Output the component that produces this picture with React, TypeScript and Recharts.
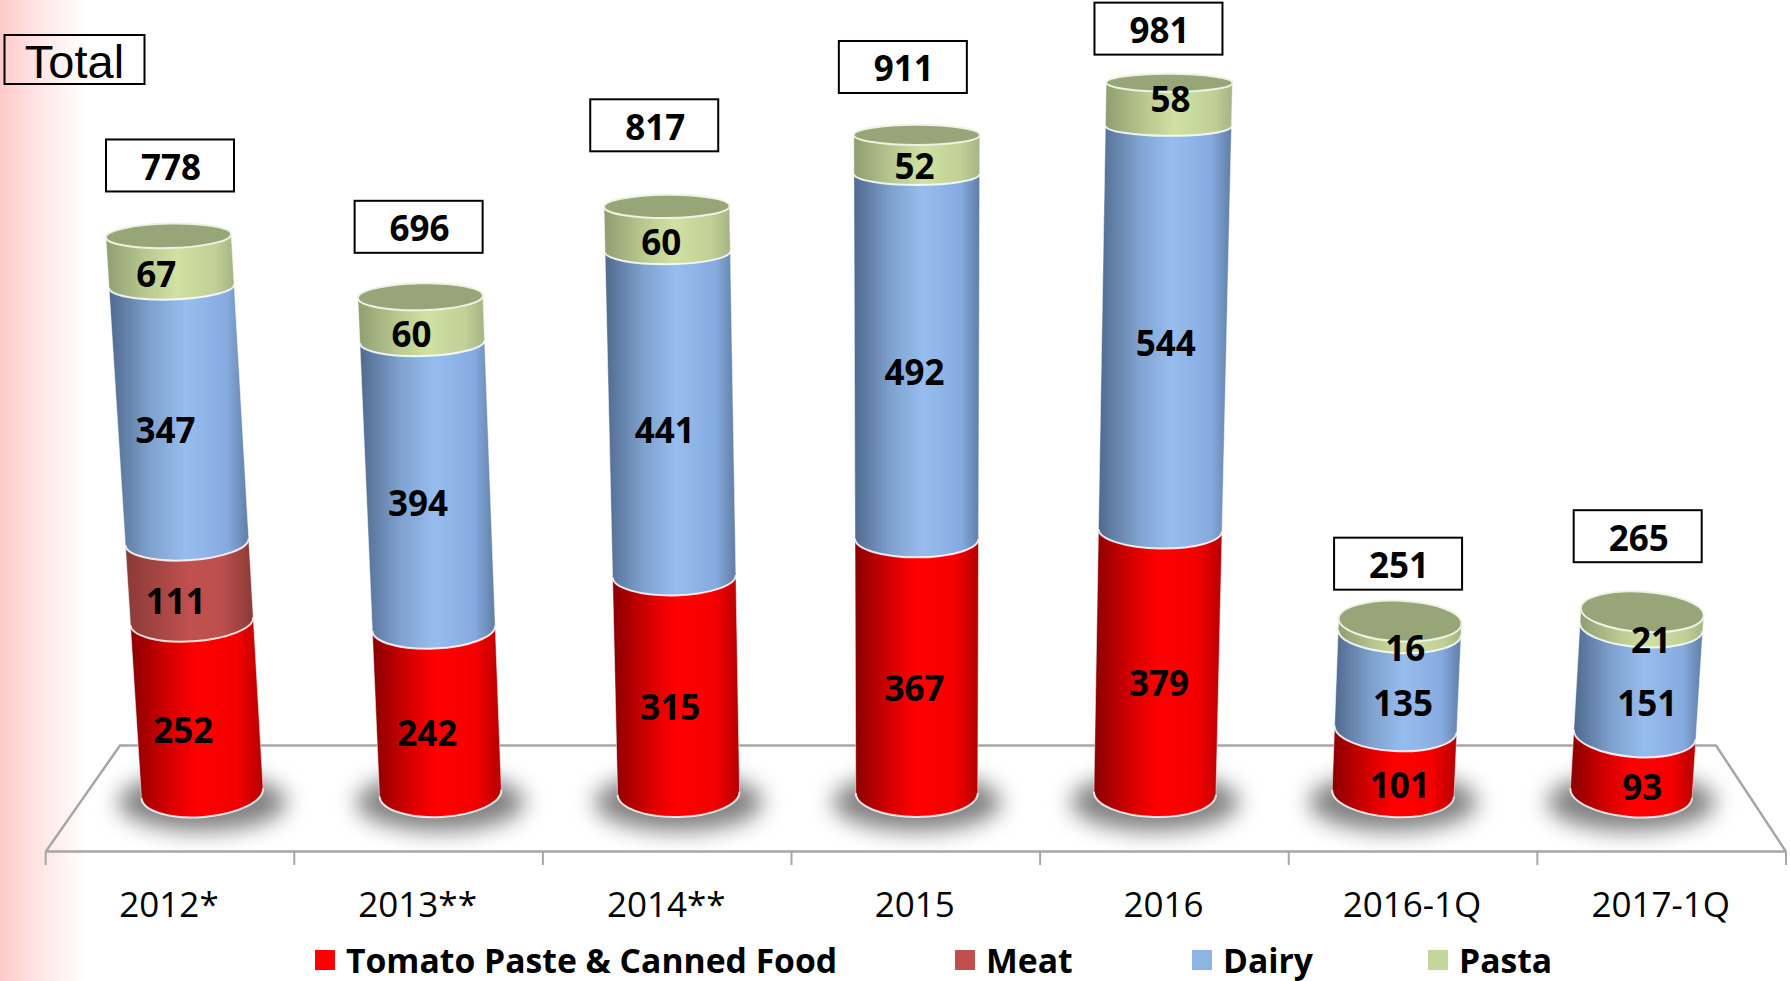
import React from "react"
import { ComposedChart, Bar, Line, XAxis, YAxis, Legend, LabelList } from "recharts"

const categories = ["2012*", "2013**", "2014**", "2015", "2016", "2016-1Q", "2017-1Q"]
const tomato = [252, 242, 315, 367, 379, 101, 93]
const meat = [111, null, null, null, null, null, null]
const dairy = [347, 394, 441, 492, 544, 135, 151]
const pasta = [67, 60, 60, 52, 58, 16, 21]
const totals = [778, 696, 817, 911, 981, 251, 265]
const legendOrder = ["Tomato Paste & Canned Food", "Meat", "Dairy", "Pasta"]

const data = categories.map((name, i) => ({
    name,
    tomato: tomato[i],
    meat: meat[i],
    dairy: dairy[i],
    pasta: pasta[i],
    total: totals[i],
}))

// the total boxes were placed by hand in the original, so each one has its own nudge
const totalNudgeX = [0, 0, -13, -13, -6, -15, -24]
const totalNudgeY = [-78, -78, -89, -77, -63, -74, -91]
const pastaLabelNudgeY = [0, 0, 0, 0, -15, 0, 0]
const legendLeft = [315, 955, 1192, 1428]

const FONT = "'Open Sans', sans-serif"
const VANISH_X = 916
const FLOOR_Y = 817
const ZERO_Y = 825.4
const BASE_LIFT = 8
const CATEGORY_WIDTH = 248.7

// the original is a 3D chart, its height is not quite linear on screen
function warp(y: number) {
    const s = Math.max(0, Math.sin((Math.PI * (ZERO_Y - y)) / 748))
    return y + 7.4 * Math.pow(s, 1.5)
}

// fake perspective of the original 3D cylinders
function geom(xc: number, yFront: number, halfWidth: number) {
    const xb = VANISH_X + (xc - VANISH_X) * 0.958 + 1.2
    const h = FLOOR_Y - yFront
    const cx = xb + (xb - VANISH_X) * 8.3e-5 * h
    const hw = halfWidth + 0.003 * h
    const ry = 9 + (yFront - 90) * 0.0205
    const slope = (xb - VANISH_X) * 1.15e-4 * (yFront / FLOOR_Y)
    const phi = Math.atan(slope)
    const cy = yFront - ry
    return {
        xb, cx, cy, hw, ry,
        deg: (phi * 180) / Math.PI,
        lx: cx - hw * Math.cos(phi),
        ly: cy - hw * Math.sin(phi),
        rx: cx + hw * Math.cos(phi),
        ry2: cy + hw * Math.sin(phi),
    }
}

function cylinder(gradient: string, lift: number, cap: boolean, shadow: boolean) {
    return (props: any) => {
        const { x, y, width, height } = props
        if (!height || height <= 0) return <g />
        const xc = x + width / 2
        const t = geom(xc, warp(y), width / 2)
        const b = geom(xc, lift ? FLOOR_Y : warp(y + height), width / 2)
        const body = `M${t.lx},${t.ly} L${b.lx},${b.ly} A${b.hw},${b.ry} ${b.deg} 0 0 ${b.rx},${b.ry2} L${t.rx},${t.ry2} A${t.hw},${t.ry} ${t.deg} 0 0 ${t.lx},${t.ly} Z`
        return (
            <g>
                {shadow && (
                    <ellipse cx={b.cx} cy={b.cy + 9} rx={84} ry={29} fill="#808080" filter="url(#floorShadow)" />
                )}
                <path d={body} fill={`url(#${gradient})`} />
                <path d={`M${b.lx},${b.ly} L${t.lx},${t.ly}`} stroke="#fff" strokeOpacity={0.5} strokeWidth={1} fill="none" />
                <path d={`M${b.rx},${b.ry2} L${t.rx},${t.ry2}`} stroke="#fff" strokeOpacity={0.5} strokeWidth={1} fill="none" />
                <path
                    d={`M${b.lx},${b.ly} A${b.hw},${b.ry} ${b.deg} 0 0 ${b.rx},${b.ry2}`}
                    stroke="#fff"
                    strokeOpacity={0.85}
                    strokeWidth={2}
                    fill="none"
                />
                {cap && (
                    <ellipse
                        cx={t.cx}
                        cy={t.cy}
                        rx={t.hw}
                        ry={t.ry}
                        fill="#97a679"
                        stroke="#eef2e2"
                        strokeWidth={2}
                        transform={`rotate(${t.deg} ${t.cx} ${t.cy})`}
                    />
                )}
            </g>
        )
    }
}

function segmentLabel(lift: number, nudgeY?: number[]) {
    return (props: any) => {
        const { x, y, width, height, value, index } = props
        if (value == null || !height) return null
        const xc = x + width / 2
        const bottom = lift ? FLOOR_Y : warp(y + height)
        const mid = (warp(y) + bottom) / 2
        const g = geom(xc, mid, width / 2)
        return (
            <text
                x={g.cx + (g.xb - VANISH_X) * 0.016 - 2.3}
                y={mid + (nudgeY ? nudgeY[index] : 0)}
                textAnchor="middle"
                dominantBaseline="central"
                fontFamily={FONT}
                fontWeight={700}
                fontSize={35}
                fill="#000"
            >
                {value}
            </text>
        )
    }
}

function totalBox(props: any) {
    const { x, y, value, index } = props
    const cx = x + totalNudgeX[index]
    const cy = y + totalNudgeY[index]
    return (
        <g>
            <rect x={cx - 64} y={cy - 26} width={128} height={52} fill="#fff" stroke="#000" strokeWidth={2} />
            <text
                x={cx + 1}
                y={cy + 1}
                textAnchor="middle"
                dominantBaseline="central"
                fontFamily={FONT}
                fontWeight={700}
                fontSize={35}
                fill="#000"
            >
                {value}
            </text>
        </g>
    )
}

function CategoryTick(props: any) {
    const { x, payload, index } = props
    const left = x - CATEGORY_WIDTH / 2
    return (
        <g>
            <line x1={left} x2={left} y1={851.6} y2={865} stroke="#a6a6a6" strokeWidth={2} />
            {index === categories.length - 1 && (
                <line x1={left + CATEGORY_WIDTH} x2={left + CATEGORY_WIDTH} y1={851.6} y2={865} stroke="#a6a6a6" strokeWidth={2} />
            )}
            <text
                x={x - 1}
                y={903}
                textAnchor="middle"
                dominantBaseline="central"
                fontFamily={FONT}
                fontSize={35}
                fill="#000"
            >
                {payload.value}
            </text>
        </g>
    )
}

function LegendRow({ payload }: any) {
    const items = legendOrder.map((name) => (payload || []).find((p: any) => p.value === name)).filter(Boolean)
    return (
        <div style={{ position: "relative", width: 1790, height: 40 }}>
            {items.map((item: any, i: number) => (
                <div
                    key={item.value}
                    style={{
                        position: "absolute",
                        left: legendLeft[i],
                        top: 0,
                        height: 40,
                        lineHeight: "40px",
                        display: "flex",
                        alignItems: "center",
                        whiteSpace: "nowrap",
                        fontFamily: FONT,
                        fontWeight: 700,
                        fontSize: 33.7,
                        color: "#000",
                    }}
                >
                    <span style={{ width: 20, height: 20, background: item.color, marginRight: 11 }} />
                    {item.value}
                </div>
            ))}
        </div>
    )
}

export default function App() {
    return (
        <div style={{ position: "absolute", left: 0, top: 0, width: 1790, height: 981, overflow: "hidden", background: "#fff" }}>
            <div
                style={{
                    position: "absolute",
                    left: 0,
                    top: 0,
                    width: 88,
                    height: 981,
                    background: "linear-gradient(to right, #ffcaca, #ffe6e6 45%, #ffffff)",
                }}
            />
            {/* floor and the Total box */}
            <svg width={1790} height={981} style={{ position: "absolute", left: 0, top: 0 }}>
                <polyline
                    points="45.7,851.6 120,745.5 1716,745.5 1786,851.6"
                    fill="none"
                    stroke="#a6a6a6"
                    strokeWidth={2.5}
                />
                <rect x={4.5} y={35} width={140} height={49} fill="none" stroke="#000" strokeWidth={2} />
                <text
                    x={74.5}
                    y={61}
                    textAnchor="middle"
                    dominantBaseline="central"
                    fontFamily="'Liberation Sans', Arial, sans-serif"
                    fontSize={47}
                    fill="#000"
                >
                    Total
                </text>
            </svg>
            <div style={{ position: "absolute", left: 0, top: 0 }}>
                <ComposedChart
                    width={1790}
                    height={981}
                    data={data}
                    margin={{ top: 0, right: 4, bottom: 0, left: 45.7 }}
                    barCategoryGap={0}
                >
                    <defs>
                        <linearGradient id="redCyl" x1="0" y1="0" x2="1" y2="0">
                            <stop offset="0" stopColor="#8a0000" />
                            <stop offset="0.3" stopColor="#d80000" />
                            <stop offset="0.5" stopColor="#ff0000" />
                            <stop offset="0.8" stopColor="#f60000" />
                            <stop offset="1" stopColor="#b50000" />
                        </linearGradient>
                        <linearGradient id="meatCyl" x1="0" y1="0" x2="1" y2="0">
                            <stop offset="0" stopColor="#8a3a38" />
                            <stop offset="0.5" stopColor="#c0504d" />
                            <stop offset="0.75" stopColor="#bd4f4c" />
                            <stop offset="1" stopColor="#8a3a38" />
                        </linearGradient>
                        <linearGradient id="dairyCyl" x1="0" y1="0" x2="1" y2="0">
                            <stop offset="0" stopColor="#4f6a8e" />
                            <stop offset="0.3" stopColor="#7fa2cf" />
                            <stop offset="0.55" stopColor="#97bdef" />
                            <stop offset="0.85" stopColor="#86aadd" />
                            <stop offset="1" stopColor="#5f7da6" />
                        </linearGradient>
                        <linearGradient id="pastaCyl" x1="0" y1="0" x2="1" y2="0">
                            <stop offset="0" stopColor="#8f9e70" />
                            <stop offset="0.3" stopColor="#b7c78f" />
                            <stop offset="0.55" stopColor="#d0e1a2" />
                            <stop offset="0.85" stopColor="#c0d096" />
                            <stop offset="1" stopColor="#a5b484" />
                        </linearGradient>
                        <filter id="floorShadow" x="-30%" y="-60%" width="160%" height="220%" colorInterpolationFilters="sRGB">
                            <feGaussianBlur stdDeviation="11" />
                        </filter>
                    </defs>
                    <XAxis
                        dataKey="name"
                        height={129.4}
                        interval={0}
                        axisLine={{ stroke: "#a6a6a6", strokeWidth: 2.5 }}
                        tickLine={false}
                        tick={<CategoryTick />}
                    />
                    <YAxis hide domain={[-35, 1103.5]} />
                    <Legend
                        layout="horizontal"
                        verticalAlign="middle"
                        align="center"
                        wrapperStyle={{ left: 0, top: 940, width: 1790 }}
                        content={<LegendRow />}
                    />
                    <Bar
                        dataKey="tomato"
                        name="Tomato Paste & Canned Food"
                        stackId="a"
                        barSize={122}
                        fill="#ff0000"
                        isAnimationActive={false}
                        shape={cylinder("redCyl", BASE_LIFT, false, true)}
                    >
                        <LabelList dataKey="tomato" content={segmentLabel(BASE_LIFT)} />
                    </Bar>
                    <Bar
                        dataKey="meat"
                        name="Meat"
                        stackId="a"
                        barSize={122}
                        fill="#c0504d"
                        isAnimationActive={false}
                        shape={cylinder("meatCyl", 0, false, false)}
                    >
                        <LabelList dataKey="meat" content={segmentLabel(0)} />
                    </Bar>
                    <Bar
                        dataKey="dairy"
                        name="Dairy"
                        stackId="a"
                        barSize={122}
                        fill="#8eb4e3"
                        isAnimationActive={false}
                        shape={cylinder("dairyCyl", 0, false, false)}
                    >
                        <LabelList dataKey="dairy" content={segmentLabel(0)} />
                    </Bar>
                    <Bar
                        dataKey="pasta"
                        name="Pasta"
                        stackId="a"
                        barSize={122}
                        fill="#c3d69b"
                        isAnimationActive={false}
                        shape={cylinder("pastaCyl", 0, true, false)}
                    >
                        <LabelList dataKey="pasta" content={segmentLabel(0, pastaLabelNudgeY)} />
                    </Bar>
                    <Line
                        dataKey="total"
                        stroke="none"
                        dot={false}
                        activeDot={false}
                        legendType="none"
                        isAnimationActive={false}
                    >
                        <LabelList dataKey="total" content={totalBox} />
                    </Line>
                </ComposedChart>
            </div>
        </div>
    )
}
